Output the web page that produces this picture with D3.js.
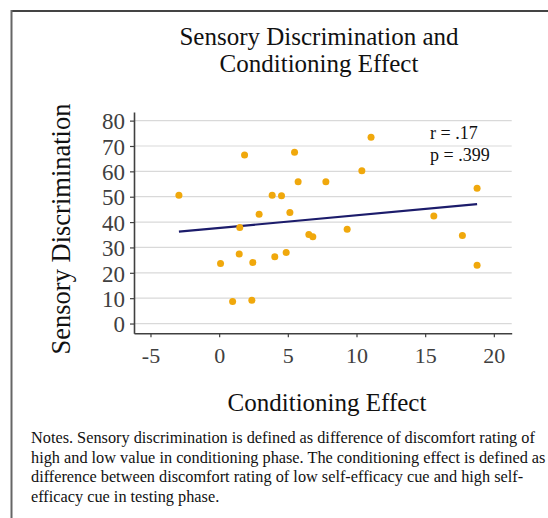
<!DOCTYPE html>
<html><head><meta charset="utf-8">
<script src="https://cdn.jsdelivr.net/npm/d3@7"></script>
<style>body{margin:0;background:#fff}svg{display:block}</style>
</head><body>
<script>
// Data
const condEffect = [-2.93,1.85,0.10,0.98,1.46,1.50,2.38,2.45,2.91,3.86,4.05,4.54,4.88,5.15,5.49,5.75,6.53,6.82,7.77,9.32,10.39,11.06,15.63,17.71,18.78,18.78];
const sensDisc   = [50.6,66.4,23.7,8.7,27.4,37.9,9.2,24.1,43.1,50.6,26.3,50.4,28.0,43.8,67.5,55.9,35.1,34.2,55.9,37.2,60.2,73.4,42.4,34.7,53.3,23.0];
const xTicks = [-5,0,5,10,15,20];
const yTicks = [0,10,20,30,40,50,60,70,80];
const titleLines = ["Sensory Discrimination and","Conditioning Effect"];
const statLines = ["r = .17","p = .399"];
const noteLines = [
 "Notes. Sensory discrimination is defined as difference of discomfort rating of",
 "high and low value in conditioning phase. The conditioning effect is defined as",
 "difference between discomfort rating of low self-efficacy cue and high self-",
 "efficacy cue in testing phase."
];

const W=548,H=518;
const svg=d3.select("body").append("svg").attr("width",W).attr("height",H)
  .style("font-family","'Liberation Serif','Times New Roman',serif");

// frame
svg.append("line").attr("x1",11.5).attr("x2",W).attr("y1",11).attr("y2",11).attr("stroke","#444").attr("stroke-width",2);
svg.append("line").attr("x1",11.5).attr("x2",11.5).attr("y1",10).attr("y2",H).attr("stroke","#666").attr("stroke-width",2);

const x=d3.scaleLinear().domain([-6.2,21.3]).range([134,511.7]);
const y=d3.scaleLinear().domain([-3.85,83.4]).range([333.3,112]);

// gridlines
svg.append("g").selectAll("line").data(yTicks).join("line")
  .attr("x1",134).attr("x2",511.7).attr("y1",d=>y(d)).attr("y2",d=>y(d))
  .attr("stroke","#d9d9d9").attr("stroke-width",1.2);

// axes
const fmt=d=>String(d);
const yAxis=svg.append("g").attr("transform","translate(134,0)")
  .call(d3.axisLeft(y).tickValues(yTicks).tickFormat(fmt).tickSize(4).tickPadding(5).tickSizeOuter(0));
const xAxis=svg.append("g").attr("transform","translate(0,333.3)")
  .call(d3.axisBottom(x).tickValues(xTicks).tickFormat(fmt).tickSize(4).tickPadding(6).tickSizeOuter(0));
[yAxis,xAxis].forEach(a=>{
  a.select(".domain").attr("stroke","#404040").attr("stroke-width",1.6);
  a.selectAll(".tick line").attr("stroke","#404040").attr("stroke-width",1.2);
  a.selectAll("text").attr("fill","#404040").style("font-family","'Liberation Serif','Times New Roman',serif");
});
yAxis.selectAll("text").style("font-size","23px").attr("dy","0.36em");
xAxis.selectAll("text").style("font-size","22px").attr("dy","0.88em");

// regression line (OLS from the data)
const n=condEffect.length;
const mx=d3.mean(condEffect), my=d3.mean(sensDisc);
let sxy=0,sxx=0;
for(let i=0;i<n;i++){sxy+=(condEffect[i]-mx)*(sensDisc[i]-my);sxx+=(condEffect[i]-mx)**2;}
const b=sxy/sxx, a0=my-b*mx;
const [x0,x1]=d3.extent(condEffect);
svg.append("line").attr("x1",x(x0)).attr("x2",x(x1)).attr("y1",y(a0+b*x0)).attr("y2",y(a0+b*x1))
  .attr("stroke","#1c1c6b").attr("stroke-width",2.2);

// points
svg.append("g").selectAll("circle").data(d3.range(n)).join("circle")
  .attr("cx",i=>x(condEffect[i])).attr("cy",i=>y(sensDisc[i])).attr("r",3.5)
  .attr("fill","#f0a80c");

// stats
svg.append("g").selectAll("text").data(statLines).join("text")
  .attr("x",430).attr("y",(d,i)=>139+i*22).attr("font-size","18px").attr("fill","#111").text(d=>d);

// title
svg.append("g").selectAll("text").data(titleLines).join("text")
  .attr("x",319).attr("y",(d,i)=>45+i*27).attr("text-anchor","middle").attr("font-size","25px").attr("fill","#111").text(d=>d);

// axis titles
svg.append("text").attr("x",327).attr("y",411).attr("text-anchor","middle").attr("font-size","25px").attr("fill","#111").text("Conditioning Effect");
svg.append("text").attr("transform","translate(70,229) rotate(-90)").attr("text-anchor","middle").attr("font-size","26.5px").attr("fill","#111").text("Sensory Discrimination");

// notes
svg.append("g").selectAll("text").data(noteLines).join("text")
  .attr("x",31).attr("y",(d,i)=>443+i*19.5).attr("font-size","16.3px").attr("fill","#111").text(d=>d);
</script>
</body></html>
